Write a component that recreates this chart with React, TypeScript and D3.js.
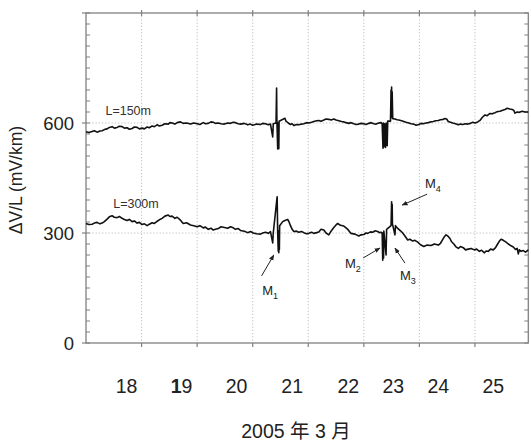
import React from "react";
import * as d3 from "d3";

// x in grid units (one unit = one dotted grid interval), y in mV/km
const series150: [number, number][] = [
  [0, 576], [0.05, 574], [0.11, 577], [0.15, 579], [0.2, 575], [0.25, 578], [0.29, 579], [0.33, 582],
  [0.38, 584], [0.42, 588], [0.47, 590], [0.51, 586], [0.56, 588], [0.6, 591], [0.65, 590], [0.69, 586],
  [0.74, 587], [0.78, 583], [0.83, 585], [0.87, 589], [0.92, 588], [0.96, 584], [1.01, 586], [1.05, 584],
  [1.1, 589], [1.14, 587], [1.19, 592], [1.23, 590], [1.28, 595], [1.32, 592], [1.37, 594], [1.42, 598],
  [1.48, 597], [1.51, 601], [1.55, 600], [1.6, 597], [1.64, 601], [1.7, 603], [1.75, 599], [1.81, 600],
  [1.88, 597], [1.94, 600], [2.0, 598], [2.05, 596], [2.11, 601], [2.15, 598], [2.2, 599], [2.25, 603],
  [2.29, 602], [2.33, 599], [2.38, 600], [2.43, 598], [2.49, 597], [2.55, 600], [2.6, 599], [2.65, 602],
  [2.69, 601], [2.74, 598], [2.78, 597], [2.85, 599], [2.91, 595], [2.96, 597], [3.0, 594], [3.07, 597],
  [3.14, 596], [3.18, 599], [3.23, 598], [3.28, 595], [3.32, 597],
  [3.36, 562], [3.37, 598], [3.42, 600], [3.43, 695], [3.435, 610],
  [3.45, 529], [3.455, 600], [3.46, 532], [3.465, 598], [3.47, 530], [3.475, 605],
  [3.58, 613], [3.6, 605], [3.64, 600], [3.68, 596], [3.71, 598], [3.74, 593], [3.79, 596], [3.83, 595],
  [3.88, 597], [3.92, 598], [3.97, 601], [4.01, 600], [4.06, 602], [4.1, 604], [4.15, 606], [4.19, 607],
  [4.23, 605], [4.28, 608], [4.32, 611], [4.37, 610], [4.41, 608], [4.46, 611], [4.5, 608], [4.55, 606],
  [4.6, 604], [4.64, 603], [4.68, 601], [4.73, 599], [4.77, 601], [4.82, 598], [4.86, 596], [4.91, 597],
  [4.95, 599], [5.0, 598], [5.04, 596], [5.09, 599], [5.13, 601], [5.18, 598], [5.22, 597], [5.27, 600],
  [5.31, 601],
  [5.33, 598], [5.345, 531], [5.35, 600], [5.36, 535], [5.37, 598], [5.39, 533], [5.4, 600], [5.42, 538],
  [5.43, 605], [5.48, 605], [5.49, 690], [5.495, 615], [5.5, 698], [5.505, 620], [5.51, 685], [5.52, 612],
  [5.56, 611], [5.6, 609], [5.63, 608], [5.68, 606], [5.72, 604], [5.76, 602], [5.81, 600], [5.85, 598],
  [5.9, 597], [5.94, 594], [5.99, 596], [6.03, 599], [6.07, 598], [6.12, 600], [6.16, 601], [6.2, 603],
  [6.25, 604], [6.29, 606], [6.34, 607], [6.38, 609], [6.43, 610], [6.46, 612], [6.49, 611], [6.52, 604],
  [6.56, 602], [6.6, 600], [6.65, 598], [6.7, 595], [6.74, 597], [6.78, 596], [6.83, 598], [6.87, 597],
  [6.92, 599], [6.96, 602], [7.0, 600], [7.05, 603], [7.09, 607], [7.13, 615], [7.18, 622], [7.22, 620],
  [7.27, 626], [7.31, 625], [7.36, 628], [7.4, 631], [7.45, 632], [7.5, 635], [7.54, 637], [7.58, 640],
  [7.63, 638], [7.67, 637], [7.7, 634], [7.72, 627], [7.76, 630], [7.8, 629], [7.85, 632], [7.9, 630],
  [7.96, 630],
];

const series300: [number, number][] = [
  [0, 326], [0.05, 323], [0.11, 324], [0.15, 327], [0.2, 329], [0.25, 325], [0.29, 327], [0.33, 331],
  [0.38, 338], [0.42, 344], [0.47, 347], [0.51, 343], [0.56, 342], [0.6, 345], [0.65, 340], [0.69, 337],
  [0.74, 334], [0.78, 337], [0.83, 331], [0.87, 333], [0.92, 327], [0.96, 329], [1.01, 323], [1.05, 325],
  [1.1, 320], [1.14, 324], [1.19, 328], [1.23, 326], [1.28, 332], [1.32, 336], [1.37, 340], [1.42, 346],
  [1.48, 349], [1.51, 345], [1.55, 346], [1.6, 340], [1.64, 343], [1.7, 335], [1.75, 326], [1.81, 328],
  [1.88, 322], [1.94, 320], [2.0, 317], [2.05, 320], [2.11, 314], [2.15, 316], [2.2, 310], [2.25, 313],
  [2.29, 308], [2.33, 310], [2.38, 312], [2.43, 317], [2.49, 315], [2.55, 313], [2.6, 317], [2.65, 314],
  [2.69, 310], [2.74, 312], [2.78, 307], [2.85, 305], [2.91, 301], [2.96, 304], [3.01, 300], [3.07, 298],
  [3.14, 297], [3.18, 300], [3.23, 302], [3.28, 299], [3.32, 304],
  [3.36, 273], [3.37, 300], [3.44, 399], [3.45, 300], [3.46, 250],
  [3.465, 305], [3.47, 246], [3.475, 300], [3.48, 255], [3.485, 320],
  [3.54, 331], [3.58, 334], [3.63, 337], [3.66, 328], [3.68, 320], [3.71, 310], [3.74, 304], [3.79, 305],
  [3.83, 302], [3.88, 304], [3.92, 301], [3.97, 298], [4.01, 299], [4.06, 302], [4.1, 299], [4.15, 301],
  [4.19, 303], [4.23, 310], [4.28, 308], [4.32, 300], [4.37, 295], [4.41, 305], [4.46, 315], [4.5, 322],
  [4.53, 326], [4.58, 321], [4.64, 319], [4.68, 314], [4.71, 310], [4.74, 304], [4.77, 299], [4.84, 297],
  [4.91, 292], [4.95, 295], [5.0, 296], [5.04, 300], [5.07, 299], [5.12, 303], [5.16, 302], [5.2, 306],
  [5.25, 304], [5.28, 301], [5.31, 302],
  [5.33, 300], [5.34, 226], [5.345, 300], [5.355, 232], [5.36, 305],
  [5.4, 240], [5.41, 310], [5.49, 320], [5.5, 385], [5.505, 330], [5.51, 378], [5.515, 325], [5.56, 295],
  [5.57, 320], [5.6, 314], [5.63, 310], [5.66, 306], [5.7, 300], [5.74, 292], [5.79, 281], [5.83, 283],
  [5.88, 278], [5.92, 280], [5.97, 275], [6.02, 268], [6.08, 263], [6.14, 267], [6.21, 266], [6.27, 270],
  [6.34, 267], [6.38, 272], [6.41, 280], [6.45, 290], [6.48, 295], [6.51, 292], [6.55, 285], [6.58, 276],
  [6.62, 270], [6.66, 262], [6.7, 258], [6.74, 263], [6.79, 260], [6.83, 254], [6.88, 256], [6.93, 258],
  [6.99, 254], [7.03, 256], [7.08, 250], [7.12, 253], [7.17, 246], [7.2, 251], [7.24, 250], [7.28, 256],
  [7.33, 254], [7.37, 260], [7.4, 268], [7.44, 278], [7.47, 283], [7.51, 280], [7.56, 275], [7.6, 270],
  [7.65, 265], [7.69, 262], [7.73, 255], [7.76, 258], [7.78, 243], [7.8, 254], [7.83, 250], [7.87, 252],
  [7.91, 248], [7.96, 254],
];

const xTickLabels = ["18", "19", "20", "21", "22", "23", "24", "25"];
const xTickLabelPos = [0.73, 1.72, 2.71, 3.71, 4.72, 5.53, 6.34, 7.33];
const gridX = [1, 2, 3, 4, 5, 6, 7];
const yMajor = [0, 300, 600, 900];
const yLabels = [0, 300, 600];
const seriesLabels = ["L=150m", "L=300m"];
const seriesLabelPos: [number, number][] = [[0.35, 622], [0.49, 368]];
// annotations: label, sub, text pos (u, v), arrow from (u,v) to (u,v)
const markers = ["M", "M", "M", "M"];
const markerSubs = ["1", "2", "3", "4"];
const markerTextPos: [number, number][] = [[3.17, 130], [4.66, 205], [5.65, 172], [6.1, 422]];
const markerArrowFrom: [number, number][] = [[3.16, 183], [4.99, 232], [5.74, 218], [6.14, 406]];
const markerArrowTo: [number, number][] = [[3.38, 240], [5.29, 259], [5.56, 259], [5.69, 376]];

const W = 531, H = 441;
const x = d3.scaleLinear().domain([0, 7.96]).range([86, 528.3]);
const y = d3.scaleLinear().domain([0, 900]).range([343, 13]);
const line = d3.line<[number, number]>().x(d => x(d[0])).y(d => y(d[1]));
const minorY = d3.range(0, 901, 30);

const axisColor = "#808080";
const font = "Liberation Sans, Arial, Helvetica, sans-serif";

export default function App() {
  return (
    <svg width={W} height={H} style={{ position: "absolute", left: 0, top: 0, background: "#fff" }}>
      <defs>
        <marker id="ah" viewBox="0 0 10 10" refX="9" refY="5" markerWidth="6" markerHeight="6" orient="auto-start-reverse">
          <path d="M0,1 L10,5 L0,9 z" fill="#222" />
        </marker>
      </defs>
      {/* grid */}
      {gridX.map(g => (
        <line key={"gx" + g} x1={x(g)} x2={x(g)} y1={y(900)} y2={y(0)} stroke="#bdbdbd" strokeWidth={1} strokeDasharray="1.2,2" />
      ))}
      {[300, 600].map(v => (
        <line key={"gy" + v} x1={x(0)} x2={x(7.96)} y1={y(v)} y2={y(v)} stroke="#bdbdbd" strokeWidth={1} strokeDasharray="1.2,2" />
      ))}
      {/* frame */}
      <rect x={x(0)} y={y(900)} width={x(7.96) - x(0)} height={y(0) - y(900)} fill="none" stroke={axisColor} strokeWidth={1.3} />
      {/* y minor ticks */}
      {minorY.map(v => (
        <g key={"my" + v}>
          <line x1={x(0)} x2={x(0) + 4} y1={y(v)} y2={y(v)} stroke={axisColor} strokeWidth={1} />
          <line x1={x(7.96)} x2={x(7.96) - 4} y1={y(v)} y2={y(v)} stroke={axisColor} strokeWidth={1} />
        </g>
      ))}
      {yMajor.map(v => (
        <line key={"My" + v} x1={x(0) - 4} x2={x(0)} y1={y(v)} y2={y(v)} stroke={axisColor} strokeWidth={1.2} />
      ))}
      {gridX.map(g => (
        <g key={"tx" + g}>
          <line x1={x(g)} x2={x(g)} y1={y(0)} y2={y(0) + 4} stroke={axisColor} strokeWidth={1.2} />
          <line x1={x(g)} x2={x(g)} y1={y(900) - 3} y2={y(900) + 3} stroke={axisColor} strokeWidth={1.2} />
        </g>
      ))}
      {/* y labels */}
      {yLabels.map(v => (
        <text key={"yl" + v} x={x(0) - 12} y={y(v)} dy="0.36em" textAnchor="end" fontFamily={font} fontSize={18.5} fill="#222">
          {v}
        </text>
      ))}
      <text transform={`translate(22,${(y(900) + y(0)) / 2 + 2}) rotate(-90)`} textAnchor="middle" fontFamily={font} fontSize={17.5} fill="#222">
        ΔV/L (mV/km)
      </text>
      {/* x labels */}
      {xTickLabels.map((t, i) => (
        <text key={"xl" + t} x={x(xTickLabelPos[i])} y={393} textAnchor="middle" fontFamily={font} fontSize={19.5} fill="#222">
          {t === "19" ? (<><tspan fontWeight="bold">1</tspan>9</>) : t}
        </text>
      ))}
      <text x={296} y={438} textAnchor="middle" fontSize={19.5} fill="#222" fontFamily={"Liberation Sans, Arial, 'Noto Sans CJK SC', sans-serif"}>
        2005 年 3 月
      </text>
      {/* data */}
      <path d={line(series150) || ""} fill="none" stroke="#111" strokeWidth={1.6} strokeLinejoin="round" />
      <path d={line(series300) || ""} fill="none" stroke="#111" strokeWidth={1.6} strokeLinejoin="round" />
      {seriesLabels.map((s, i) => (
        <text key={s} x={x(seriesLabelPos[i][0])} y={y(seriesLabelPos[i][1])} fontFamily={font} fontSize={12.5} fill="#333">
          {s}
        </text>
      ))}
      {/* annotations */}
      {markers.map((m, i) => (
        <g key={"m" + i}>
          <line x1={x(markerArrowFrom[i][0])} y1={y(markerArrowFrom[i][1])} x2={x(markerArrowTo[i][0])} y2={y(markerArrowTo[i][1])}
            stroke="#222" strokeWidth={1} markerEnd="url(#ah)" />
          <text x={x(markerTextPos[i][0])} y={y(markerTextPos[i][1])} fontFamily={font} fontSize={13} fill="#222">
            {m}
            <tspan fontSize={9} dy={4}>{markerSubs[i]}</tspan>
          </text>
        </g>
      ))}
    </svg>
  );
}
